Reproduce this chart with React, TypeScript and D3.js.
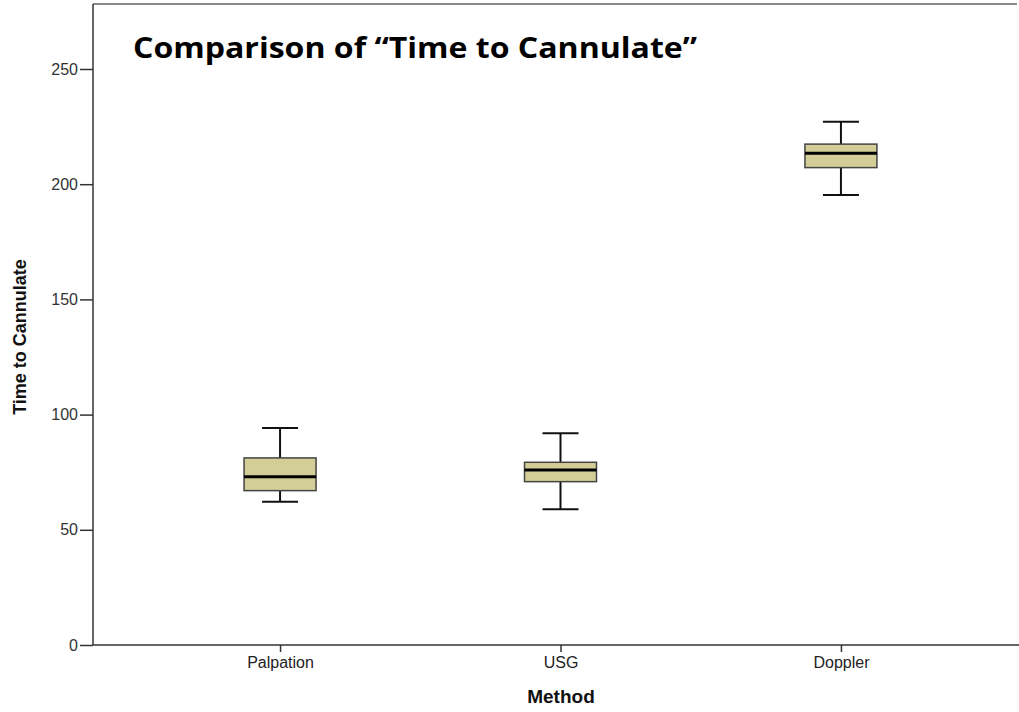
import { useEffect, useRef } from "react";
import * as d3 from "d3";

const methods = ["Palpation", "USG", "Doppler"];
const whiskerLow = [62.2, 58.9, 195.3];
const q1 = [67, 70.9, 207.2];
const median = [73, 76, 213.4];
const q3 = [81.2, 79.3, 217.4];
const whiskerHigh = [94.2, 91.9, 227.1];
const yTicks = [0, 50, 100, 150, 200, 250];

export default function App() {
  const svgRef = useRef<SVGSVGElement>(null);

  useEffect(() => {
    if (!svgRef.current) return;
    const svg = d3.select(svgRef.current);
    svg.selectAll("*").remove();

    const width = 1019;
    const height = 712;
    const left = 93;
    const top = 4;
    const bottom = 645;

    const y = d3.scaleLinear().domain([0, 250]).range([bottom, 69]);
    const x = d3.scalePoint<string>().domain(methods).range([left, 1028]).padding(0.667);

    svg.attr("width", width).attr("height", height);

    // frame top
    svg.append("line")
      .attr("x1", left).attr("x2", 1017).attr("y1", top).attr("y2", top)
      .attr("stroke", "#8a8a8a").attr("stroke-width", 2);

    // y axis
    const yAxis = svg.append("g").attr("transform", `translate(${left},0)`)
      .call(d3.axisLeft(y).tickValues(yTicks).tickSize(13).tickPadding(2).tickSizeOuter(0));
    yAxis.select(".domain").attr("d", `M0,${top}V${bottom}`).attr("stroke", "#333").attr("stroke-width", 1.5);
    yAxis.selectAll(".tick line").attr("stroke", "#333").attr("stroke-width", 1.5);
    yAxis.selectAll(".tick text")
      .attr("font-family", "Liberation Sans, Arial, sans-serif")
      .attr("font-size", 16).attr("fill", "#333");

    // x axis
    const xAxis = svg.append("g").attr("transform", `translate(0,${bottom})`)
      .call(d3.axisBottom(x).tickSize(7).tickPadding(5).tickSizeOuter(0));
    xAxis.select(".domain").attr("d", `M${left},0H${width}`).attr("stroke", "#333").attr("stroke-width", 1.5);
    xAxis.selectAll(".tick line").attr("stroke", "#333").attr("stroke-width", 1.5);
    xAxis.selectAll(".tick text")
      .attr("font-family", "Liberation Sans, Arial, sans-serif")
      .attr("font-size", 16).attr("fill", "#222");

    // boxes
    const boxW = 72;
    const capW = 36;
    const g = svg.append("g");
    methods.forEach((m, i) => {
      const cx = x(m) as number;
      const bg = g.append("g");
      bg.append("line")
        .attr("x1", cx).attr("x2", cx)
        .attr("y1", y(whiskerHigh[i])).attr("y2", y(q3[i]))
        .attr("stroke", "#111").attr("stroke-width", 2);
      bg.append("line")
        .attr("x1", cx).attr("x2", cx)
        .attr("y1", y(q1[i])).attr("y2", y(whiskerLow[i]))
        .attr("stroke", "#111").attr("stroke-width", 2);
      [whiskerHigh[i], whiskerLow[i]].forEach((v) => {
        bg.append("line")
          .attr("x1", cx - capW / 2).attr("x2", cx + capW / 2)
          .attr("y1", y(v)).attr("y2", y(v))
          .attr("stroke", "#111").attr("stroke-width", 2);
      });
      bg.append("rect")
        .attr("x", cx - boxW / 2).attr("width", boxW)
        .attr("y", y(q3[i])).attr("height", y(q1[i]) - y(q3[i]))
        .attr("fill", "#d3ce98").attr("stroke", "#444").attr("stroke-width", 1.5);
      bg.append("line")
        .attr("x1", cx - boxW / 2).attr("x2", cx + boxW / 2)
        .attr("y1", y(median[i])).attr("y2", y(median[i]))
        .attr("stroke", "#000").attr("stroke-width", 3);
    });

    // axis titles
    svg.append("text")
      .attr("transform", `translate(26,337) rotate(-90)`)
      .attr("text-anchor", "middle")
      .attr("font-family", "Liberation Sans, Arial, sans-serif")
      .attr("font-weight", "bold").attr("font-size", 18).attr("fill", "#111")
      .text("Time to Cannulate");

    svg.append("text")
      .attr("x", 561).attr("y", 703)
      .attr("text-anchor", "middle")
      .attr("font-family", "Liberation Sans, Arial, sans-serif")
      .attr("font-weight", "bold").attr("font-size", 19).attr("fill", "#111")
      .text("Method");

    // title
    svg.append("text")
      .attr("x", 133).attr("y", 58)
      .attr("font-family", "Open Sans, Noto Sans, sans-serif")
      .attr("font-weight", "bold").attr("font-size", 28).attr("fill", "#000")
      .attr("textLength", 564).attr("lengthAdjust", "spacingAndGlyphs")
      .text("Comparison of \u201CTime to Cannulate\u201D");
  }, []);

  return (
    <div style={{ position: "absolute", left: 0, top: 0, background: "#fff" }}>
      <svg ref={svgRef} style={{ display: "block" }} />
    </div>
  );
}
